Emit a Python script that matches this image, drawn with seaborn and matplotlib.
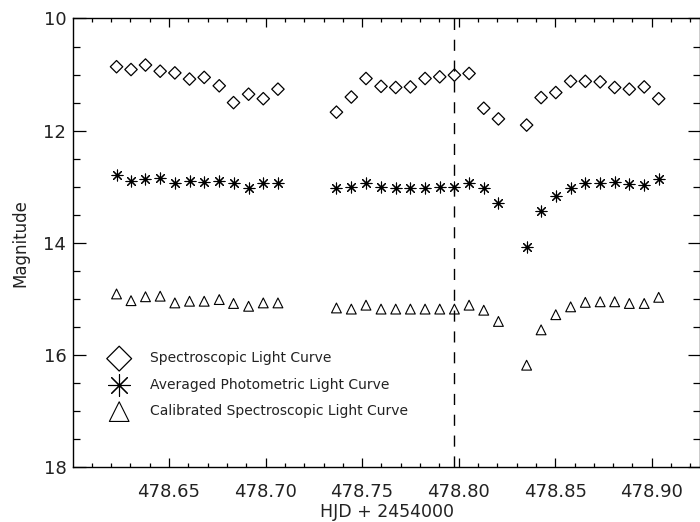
import matplotlib
matplotlib.use("Agg")
import matplotlib.pyplot as plt
import seaborn as sns
import pandas as pd
from matplotlib.ticker import MultipleLocator, FormatStrFormatter

sns.set_theme(style="ticks")
plt.rcParams["font.family"] = ["DejaVu Sans"]

# Observation times (HJD - 2454000)
hjd = [478.6228, 478.6303, 478.6378, 478.6454, 478.6530, 478.6606, 478.6682,
       478.6760, 478.6834, 478.6912, 478.6988, 478.7064,
       478.7367, 478.7444, 478.7520, 478.7598, 478.7674, 478.7750, 478.7826,
       478.7902, 478.7978, 478.8054, 478.8130, 478.8206,
       478.8352, 478.8427, 478.8503, 478.8580, 478.8656, 478.8733, 478.8808,
       478.8884, 478.8961, 478.9036]

spec_mag = [10.86, 10.91, 10.83, 10.94, 10.97, 11.08, 11.05, 11.20, 11.50, 11.35,
            11.43, 11.26,
            11.67, 11.40, 11.07, 11.21, 11.23, 11.22, 11.07, 11.04, 11.01, 10.98,
            11.60, 11.79,
            11.90, 11.41, 11.32, 11.12, 11.12, 11.13, 11.23, 11.26, 11.22, 11.43]

phot_mag = [12.79, 12.90, 12.86, 12.84, 12.94, 12.90, 12.92, 12.90, 12.94, 13.02,
            12.94, 12.94,
            13.02, 13.00, 12.93, 13.01, 13.03, 13.02, 13.02, 13.01, 13.00, 12.94,
            13.03, 13.29,
            14.07, 13.43, 13.17, 13.03, 12.93, 12.93, 12.92, 12.95, 12.96, 12.86]

calib_mag = [14.91, 15.03, 14.96, 14.95, 15.07, 15.04, 15.04, 15.01, 15.08, 15.13,
             15.07, 15.07,
             15.16, 15.18, 15.11, 15.18, 15.18, 15.18, 15.18, 15.18, 15.18, 15.11,
             15.20, 15.40,
             16.18, 15.55, 15.28, 15.14, 15.06, 15.05, 15.05, 15.08, 15.08, 14.97]

labels = ["Spectroscopic Light Curve",
          "Averaged Photometric Light Curve",
          "Calibrated Spectroscopic Light Curve"]

marker_time = 478.7978
x_limits = (478.6004, 478.9250)
y_limits = (18, 10)

df = pd.DataFrame({"hjd": hjd, "spec": spec_mag, "phot": phot_mag, "calib": calib_mag})

fig = plt.figure(figsize=(7.0, 5.22), dpi=100)
ax = fig.add_axes([0.1047, 0.1048, 1.0 - 0.1047, 0.9646 - 0.1048])

sns.scatterplot(data=df, x="hjd", y="spec", marker="D", s=40, facecolors="none",
                edgecolor="black", linewidth=0.9, label=labels[0], ax=ax)
sns.scatterplot(data=df, x="hjd", y="phot", marker=(8, 2, 0), s=62,
                color="black", edgecolor="black", linewidth=0.8, label=labels[1], ax=ax)
sns.scatterplot(data=df, x="hjd", y="calib", marker="^", s=50, facecolors="none",
                edgecolor="black", linewidth=0.8, label=labels[2], ax=ax)

ax.axvline(marker_time, color="black", linewidth=1.0, dashes=(8, 7))

ax.set_xlim(*x_limits)
ax.set_ylim(*y_limits)
ax.xaxis.set_major_locator(MultipleLocator(0.05))
ax.xaxis.set_minor_locator(MultipleLocator(0.01))
ax.yaxis.set_major_locator(MultipleLocator(2))
ax.yaxis.set_minor_locator(MultipleLocator(0.5))
ax.xaxis.set_major_formatter(FormatStrFormatter("%.2f"))

for side in ["left", "right", "top", "bottom"]:
    ax.spines[side].set_visible(True)
    ax.spines[side].set_linewidth(1.0)
    ax.spines[side].set_color("black")

ax.tick_params(axis="both", which="both", direction="in", top=True, right=True,
               color="black", width=0.9, labelsize=13, labelcolor="#222222")
ax.tick_params(axis="x", which="major", length=6.5, pad=11)
ax.tick_params(axis="x", which="minor", length=3.2)
ax.tick_params(axis="y", which="major", length=9, pad=5)
ax.tick_params(axis="y", which="minor", length=5)

ax.set_xlabel("HJD + 2454000", fontsize=12.5, color="#222222", labelpad=2)
ax.set_ylabel("Magnitude", fontsize=12, color="#222222", labelpad=10)

leg = ax.legend(loc="upper left", bbox_to_anchor=(0.040, 0.274), frameon=False,
                markerscale=2.0, fontsize=10, handletextpad=1.2, labelspacing=0.9,
                borderpad=0.0)
for t in leg.get_texts():
    t.set_color("#222222")

fig.savefig("out.png", dpi=100)
